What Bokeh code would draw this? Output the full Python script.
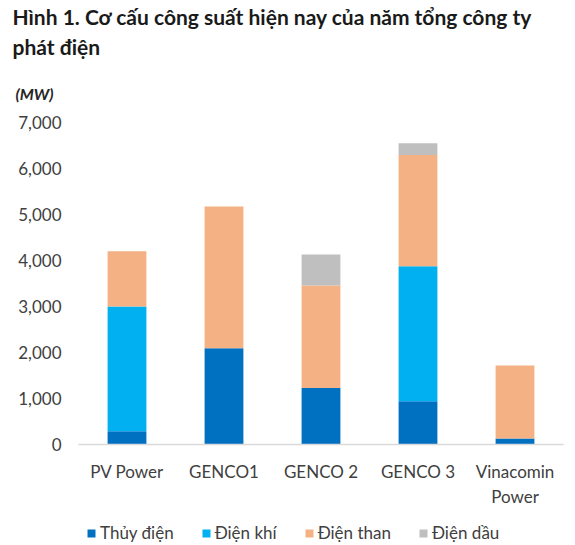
from bokeh.plotting import figure
from bokeh.layouts import column
from bokeh.models import (Range1d, FixedTicker, NumeralTickFormatter,
                          Title, Legend, LegendItem)
from bokeh.embed import file_html
from bokeh.resources import INLINE

companies = ["PV Power", "GENCO1", "GENCO 2", "GENCO 3", "Vinacomin\nPower"]
thuy_dien = [290, 2095, 1230, 940, 130]
dien_khi = [2710, 0, 0, 2935, 0]
dien_than = [1200, 3080, 2225, 2420, 1585]
dien_dau = [0, 0, 675, 255, 0]
series = ["Thủy điện", "Điện khí", "Điện than", "Điện dầu"]
colors = ["#0070C0", "#00B0F0", "#F4B183", "#BFBFBF"]
y_ticks = [0, 1000, 2000, 3000, 4000, 5000, 6000, 7000]

FONT = "Lato"
TXT = "#404040"
idx = list(range(len(companies)))

data = dict(x=idx)
for s, vals in zip(series, [thuy_dien, dien_khi, dien_than, dien_dau]):
    data[s] = vals

p = figure(x_range=Range1d(-0.5, len(companies) - 0.5), y_range=Range1d(0, 7000),
           width=575, height=509, output_backend="svg", toolbar_location=None,
           min_border_left=78, min_border_right=12, min_border_top=122,
           min_border_bottom=65, outline_line_color=None)

p.vbar_stack(series, x="x", width=0.4, source=data, color=colors, line_color=None)

p.xgrid.grid_line_color = None
p.ygrid.grid_line_color = None

p.yaxis.ticker = FixedTicker(ticks=y_ticks)
p.yaxis.formatter = NumeralTickFormatter(format="0,0")
p.yaxis.axis_line_color = None
p.yaxis.major_tick_line_color = None
p.yaxis.minor_tick_line_color = None
p.yaxis.major_tick_out = 0
p.yaxis.major_label_standoff = 17
p.yaxis.major_label_text_font = FONT
p.yaxis.major_label_text_font_size = "17px"
p.yaxis.major_label_text_color = TXT

p.xaxis.ticker = FixedTicker(ticks=idx)
p.xaxis.major_label_overrides = {i: c for i, c in zip(idx, companies)}
p.xaxis.axis_line_color = "#D9D9D9"
p.xaxis.axis_line_width = 1.5
p.xaxis.major_tick_line_color = None
p.xaxis.minor_tick_line_color = None
p.xaxis.major_tick_out = 0
p.xaxis.major_label_standoff = 16
p.xaxis.major_label_text_font = FONT
p.xaxis.major_label_text_font_size = "17px"
p.xaxis.major_label_text_color = TXT

p.add_layout(Title(text="(MW)", align="left", offset=-63, text_font=FONT,
                   text_font_size="16px", text_font_style="bold italic",
                   text_color="#262626", standoff=40), "above")
p.add_layout(Title(text="phát điện", align="left", offset=-66, text_font=FONT,
                   text_font_size="21px", text_font_style="bold",
                   text_color="#1a1a1a", standoff=6), "above")
p.add_layout(Title(text="Hình 1. Cơ cấu công suất hiện nay của năm tổng công ty",
                   align="left", offset=-66, text_font=FONT,
                   text_font_size="21px", text_font_style="bold",
                   text_color="#1a1a1a", standoff=0), "above")

# legend strip below the chart
lf = figure(x_range=Range1d(-0.5, len(companies) - 0.5), y_range=Range1d(0, 7000),
            width=575, height=36, output_backend="svg", toolbar_location=None,
            min_border=0, outline_line_color=None,
            x_axis_location=None, y_axis_location=None)
lf.xgrid.grid_line_color = None
lf.ygrid.grid_line_color = None
lrs = lf.vbar_stack(series, x="x", width=0.4, source=data, color=colors,
                    line_color=None)
for r in lrs:
    r.visible = False

items = [LegendItem(label=s, renderers=[r]) for s, r in zip(series, lrs)]
legend = Legend(items=items, orientation="horizontal", location=(8, 2),
                border_line_color=None, background_fill_alpha=0,
                glyph_width=10, glyph_height=10, label_standoff=4, spacing=27,
                padding=0, margin=0,
                label_text_font=FONT, label_text_font_size="17px",
                label_text_color=TXT)
lf.add_layout(legend, "center")

layout = column(p, lf, spacing=0)
open("out.html", "w").write(file_html(layout, INLINE))
